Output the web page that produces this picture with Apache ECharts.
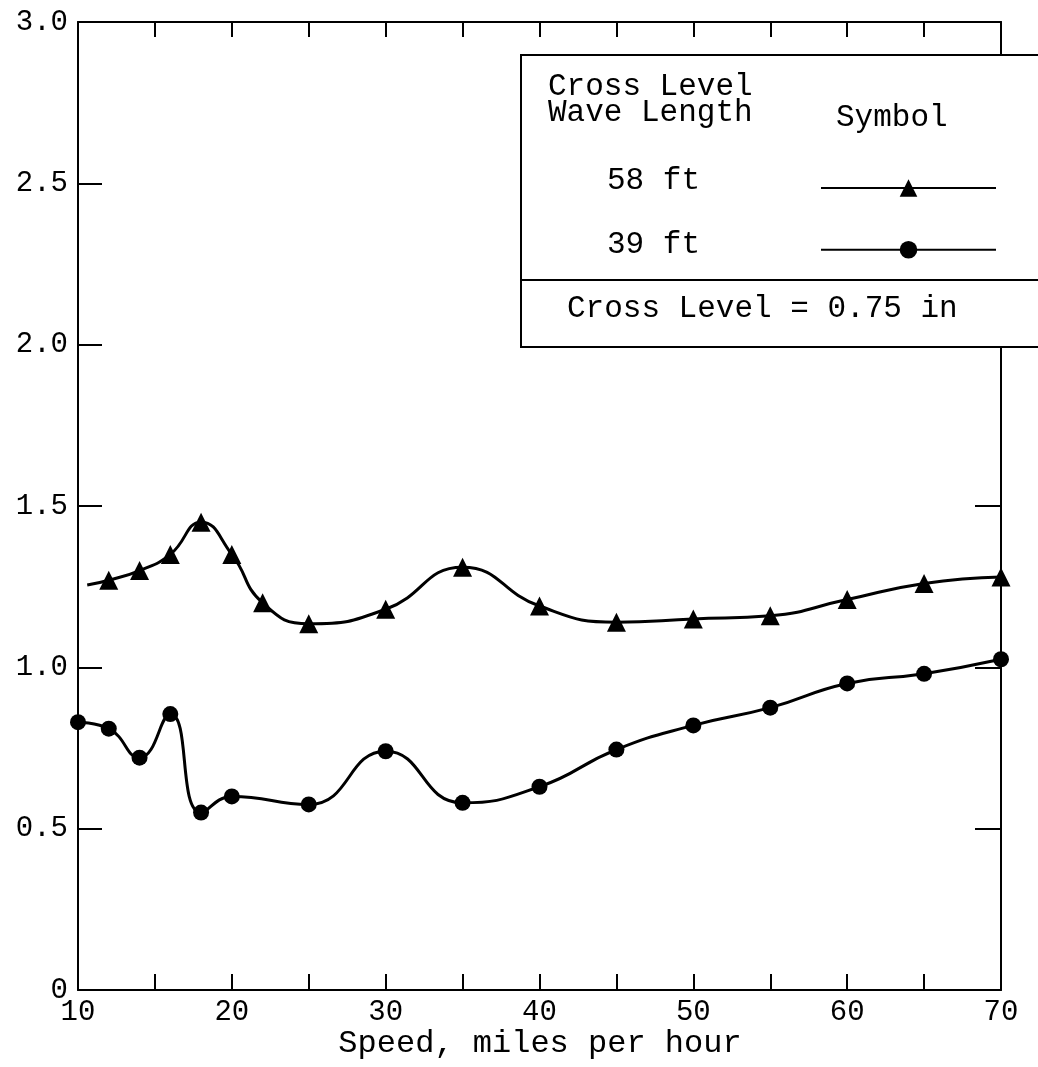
<!DOCTYPE html>
<html>
<head>
<meta charset="utf-8">
<script src="https://cdn.jsdelivr.net/npm/echarts@6/dist/echarts.min.js"></script>
<style>
html,body{margin:0;padding:0;background:#fff;}
#chart{width:1038px;height:1067px;}
</style>
</head>
<body>
<div id="chart"></div>
<script>
// Data
const speed58 = [10.6, 12, 14, 16, 18, 20, 22, 25, 30, 35, 40, 45, 50, 55, 60, 65, 70];
const ratio58 = [1.255, 1.27, 1.30, 1.35, 1.45, 1.35, 1.20, 1.135, 1.18, 1.31, 1.19, 1.14, 1.15, 1.16, 1.21, 1.26, 1.28];
const speed39 = [10, 12, 14, 16, 18, 20, 25, 30, 35, 40, 45, 50, 55, 60, 65, 70];
const ratio39 = [0.83, 0.81, 0.72, 0.855, 0.55, 0.60, 0.575, 0.74, 0.58, 0.63, 0.745, 0.82, 0.875, 0.95, 0.98, 1.025];
const seriesNames = ['58 ft', '39 ft'];
const xTitle = 'Speed, miles per hour';
const legendHead1 = 'Cross Level';
const legendHead2 = 'Wave Length';
const legendHead3 = 'Symbol';
const legendNote = 'Cross Level = 0.75 in';

const FONT = '"Liberation Mono", "Courier New", monospace';
const chart = echarts.init(document.getElementById('chart'));

function pairs(xs, ys, hideFirst) {
  return xs.map((x, i) => {
    const d = { value: [x, ys[i]] };
    if (hideFirst && i === 0) d.symbol = 'none';
    return d;
  });
}

const option = {
  backgroundColor: '#fff',
  animation: false,
  grid: { left: 78, right: 37, top: 22, bottom: 77 },
  xAxis: [
    {
      type: 'value', min: 10, max: 70, interval: 5, position: 'bottom',
      axisLine: { onZero: false, lineStyle: { color: '#000', width: 2 } },
      axisTick: { inside: true, length: 16, lineStyle: { color: '#000', width: 2 } },
      axisLabel: {
        margin: 8, color: '#000', fontFamily: FONT, fontSize: 29,
        formatter: v => (v % 10 === 0 ? String(v) : '')
      },
      splitLine: { show: false }
    },
    {
      type: 'value', min: 10, max: 70, interval: 5, position: 'top',
      axisLine: { onZero: false, lineStyle: { color: '#000', width: 2 } },
      axisTick: { inside: true, length: 15, lineStyle: { color: '#000', width: 2 } },
      axisLabel: { show: false },
      splitLine: { show: false }
    }
  ],
  yAxis: [
    {
      type: 'value', min: 0, max: 3, interval: 0.5, position: 'left',
      axisLine: { show: true, onZero: false, lineStyle: { color: '#000', width: 2 } },
      axisTick: { show: true, inside: true, length: 24, lineStyle: { color: '#000', width: 2 } },
      axisLabel: {
        margin: 10, color: '#000', fontFamily: FONT, fontSize: 29,
        formatter: v => (v === 0 ? '0' : v.toFixed(1))
      },
      splitLine: { show: false }
    },
    {
      type: 'value', min: 0, max: 3, interval: 0.5, position: 'right',
      axisLine: { show: true, onZero: false, lineStyle: { color: '#000', width: 2 } },
      axisTick: { show: true, inside: true, length: 26, lineStyle: { color: '#000', width: 2 } },
      axisLabel: { show: false },
      splitLine: { show: false }
    }
  ],
  legend: {
    orient: 'vertical',
    left: 815, top: 172,
    itemWidth: 175, itemHeight: 22, itemGap: 42,
    data: seriesNames,
    formatter: () => '',
    textStyle: { fontSize: 12 },
    selectedMode: false,
    z: 60
  },
  series: [
    {
      name: seriesNames[0], type: 'line', smooth: 0.5,
      data: pairs(speed58, ratio58, true),
      symbol: 'triangle', symbolSize: 19,
      lineStyle: { color: '#000', width: 3 },
      itemStyle: { color: '#000' },
      z: 5
    },
    {
      name: seriesNames[1], type: 'line', smooth: 0.5,
      data: pairs(speed39, ratio39, false),
      symbol: 'circle', symbolSize: 16,
      lineStyle: { color: '#000', width: 3 },
      itemStyle: { color: '#000' },
      z: 5
    }
  ],
  graphic: [
    {
      type: 'rect', z: 50,
      shape: { x: 521, y: 55, width: 530, height: 292 },
      style: { fill: '#fff', stroke: '#000', lineWidth: 2 }
    },
    {
      type: 'line', z: 51,
      shape: { x1: 521, y1: 280, x2: 1038, y2: 280 },
      style: { stroke: '#000', lineWidth: 2 }
    },
    { type: 'text', z: 52, left: 548, top: 71, style: { text: legendHead1, font: '31px ' + FONT, fill: '#000' } },
    { type: 'text', z: 52, left: 548, top: 97, style: { text: legendHead2, font: '31px ' + FONT, fill: '#000' } },
    { type: 'text', z: 52, left: 836, top: 102, style: { text: legendHead3, font: '31px ' + FONT, fill: '#000' } },
    { type: 'text', z: 52, left: 607, top: 165, style: { text: seriesNames[0], font: '31px ' + FONT, fill: '#000' } },
    { type: 'text', z: 52, left: 607, top: 229, style: { text: seriesNames[1], font: '31px ' + FONT, fill: '#000' } },
    { type: 'text', z: 52, left: 567, top: 293, style: { text: legendNote, font: '31px ' + FONT, fill: '#000' } },
    {
      type: 'text', z: 52, x: 540, y: 1044,
      style: { text: xTitle, font: '32px ' + FONT, fill: '#000', align: 'center', verticalAlign: 'middle' }
    }
  ]
};
chart.setOption(option);
</script>
</body>
</html>
